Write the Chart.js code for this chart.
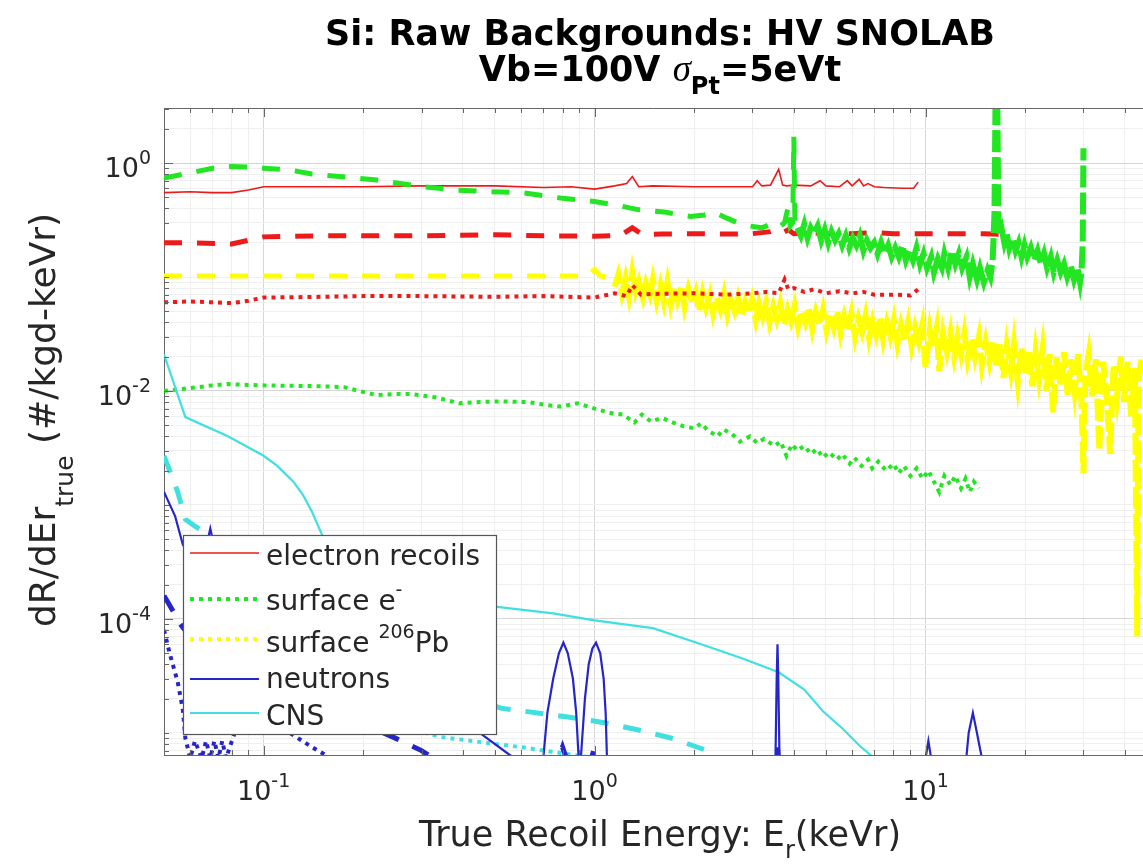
<!DOCTYPE html>
<html>
<head>
<meta charset="utf-8">
<title>Si: Raw Backgrounds: HV SNOLAB</title>
<script src="https://cdn.jsdelivr.net/npm/chart.js@4.4.1/dist/chart.umd.min.js"></script>
<style>
  html, body { margin: 0; padding: 0; background: #fff; overflow: hidden; }
  canvas { display: block; }
</style>
</head>
<body>
<canvas id="bgChart" width="1143" height="866"></canvas>
<script>
// [energy keVr, rate #/kgd-keVr] pairs

// electron recoils
var erSolid = [[0.05, 0.55], [0.06, 0.56], [0.07, 0.55], [0.08, 0.55], [0.09, 0.58], [0.1, 0.62], [0.15, 0.62], [0.2, 0.62], [0.3, 0.63], [0.5, 0.63], [0.7, 0.61], [0.85, 0.62], [1.0, 0.59], [1.15, 0.63], [1.25, 0.66], [1.3, 0.76], [1.36, 0.62], [1.5, 0.63], [2.0, 0.62], [2.5, 0.62], [3.0, 0.62], [3.1, 0.70], [3.2, 0.63], [3.4, 0.64], [3.6, 0.88], [3.7, 0.64], [3.8, 0.63], [4.0, 0.64], [4.5, 0.63], [4.8, 0.70], [5.0, 0.63], [5.5, 0.62], [5.8, 0.70], [6.0, 0.63], [6.3, 0.72], [6.5, 0.63], [6.7, 0.66], [7.0, 0.62], [7.5, 0.61], [8.5, 0.60], [9.2, 0.60], [9.5, 0.68]];

var erDash = [[0.05, 0.2], [0.06, 0.2], [0.08, 0.195], [0.09, 0.21], [0.1, 0.225], [0.15, 0.23], [0.2, 0.23], [0.3, 0.23], [0.5, 0.235], [0.7, 0.23], [1.0, 0.228], [1.2, 0.232], [1.3, 0.27], [1.4, 0.235], [1.6, 0.238], [2.0, 0.24], [2.5, 0.238], [3.0, 0.24], [3.4, 0.25], [3.55, 0.26], [3.7, 0.245], [3.85, 0.26], [4.0, 0.24], [4.5, 0.245], [5.0, 0.24], [6.0, 0.24], [7.0, 0.245], [8.0, 0.24], [10, 0.24], [12, 0.24], [15, 0.24], [18, 0.235]];

var erDot = [[0.05, 0.060], [0.06, 0.061], [0.07, 0.060], [0.08, 0.059], [0.09, 0.062], [0.1, 0.066], [0.15, 0.067], [0.2, 0.068], [0.3, 0.068], [0.5, 0.067], [0.7, 0.068], [1.0, 0.066], [1.15, 0.072], [1.25, 0.068], [1.3, 0.085], [1.38, 0.07], [1.5, 0.071], [2.0, 0.072], [2.5, 0.07], [3.0, 0.072], [3.3, 0.074], [3.6, 0.072], [3.75, 0.095], [3.85, 0.078], [4.0, 0.08], [4.3, 0.074], [4.6, 0.078], [5.0, 0.072], [5.5, 0.075], [6.0, 0.072], [6.5, 0.074], [7.0, 0.07], [8.0, 0.07], [9.0, 0.069], [9.5, 0.078]];

// surface e-
var seDash = [[0.05, 0.74], [0.06, 0.82], [0.07, 0.9], [0.08, 0.93], [0.09, 0.92], [0.1, 0.9], [0.12, 0.87], [0.14, 0.80], [0.18, 0.75], [0.22, 0.71], [0.3, 0.62], [0.38, 0.58], [0.48, 0.56], [0.6, 0.55], [0.8, 0.49], [1.0, 0.46], [1.2, 0.42], [1.35, 0.39], [1.5, 0.38], [1.65, 0.37], [1.8, 0.35], [1.95, 0.34], [2.15, 0.35], [2.3, 0.37], [2.5, 0.33], [2.7, 0.30], [2.95, 0.28], [3.2, 0.27], [3.4, 0.29], [3.6, 0.27], [3.75, 0.30], [3.85, 0.42], [3.9, 0.28], [3.97, 0.30], [4.0, 1.7], [4.03, 0.30],
  [4.1, 0.27], [4.2, 0.23], [4.3, 0.29], [4.4, 0.22], [4.5, 0.27], [4.6, 0.24], [4.72, 0.28], [4.84, 0.21], [4.96, 0.26], [5.08, 0.2], [5.2, 0.25], [5.33, 0.21], [5.46, 0.24], [5.6, 0.19], [5.74, 0.23], [5.88, 0.18], [6.03, 0.22], [6.18, 0.19], [6.33, 0.23], [6.49, 0.17], [6.65, 0.21], [6.82, 0.18], [6.99, 0.2], [7.16, 0.16], [7.34, 0.2], [7.52, 0.16], [7.71, 0.19], [7.9, 0.15], [8.1, 0.18], [8.3, 0.15], [8.51, 0.19], [8.72, 0.14], [8.94, 0.17], [9.16, 0.14], [9.39, 0.18], [9.62, 0.13], [9.86, 0.16], [10.1, 0.12], [10.4, 0.15], [10.6, 0.11], [10.9, 0.145], [11.2, 0.12], [11.4, 0.16], [11.7, 0.12], [12.0, 0.17], [12.3, 0.13], [12.6, 0.16], [12.9, 0.12], [13.3, 0.15], [13.6, 0.1], [13.9, 0.13], [14.3, 0.095], [14.6, 0.12], [15.0, 0.09], [15.4, 0.115], [15.7, 0.1], [15.95, 0.14], [16.15, 0.35], [16.3, 6], [16.45, 6],
  [16.6, 0.28], [16.8, 0.23], [17.0, 0.26], [17.3, 0.2], [17.6, 0.24], [17.9, 0.18], [18.3, 0.22], [18.7, 0.17], [19.1, 0.2], [19.5, 0.15], [19.9, 0.19], [20.3, 0.15], [20.8, 0.18], [21.3, 0.14], [21.8, 0.17], [22.3, 0.13], [22.8, 0.16], [23.3, 0.12], [23.9, 0.15], [24.4, 0.11], [25.0, 0.14], [25.6, 0.11], [26.2, 0.13], [26.8, 0.1], [27.5, 0.125], [28.1, 0.095], [28.8, 0.12], [29.3, 0.09], [29.6, 0.11], [29.85, 0.2], [30.0, 1.35]];

var seDot = [[0.05, 0.0100], [0.06, 0.0106], [0.07, 0.0112], [0.078, 0.0115], [0.09, 0.0113], [0.1, 0.0112], [0.12, 0.0111], [0.15, 0.0110], [0.175, 0.0108], [0.2, 0.0098], [0.22, 0.0092], [0.25, 0.0094], [0.28, 0.0094], [0.33, 0.0088], [0.39, 0.0078], [0.45, 0.0080], [0.52, 0.0081], [0.63, 0.0080], [0.72, 0.0075], [0.79, 0.0073], [0.89, 0.0078], [1.0, 0.0070], [1.12, 0.0064], [1.22, 0.0062], [1.32, 0.0053], [1.39, 0.0062], [1.48, 0.0054], [1.6, 0.0058], [1.75, 0.0052], [1.86, 0.0049], [2.0, 0.0047], [2.1, 0.0052], [2.2, 0.0045], [2.35, 0.0040], [2.45, 0.0046], [2.6, 0.0042], [2.75, 0.0036], [2.95, 0.0040], [3.1, 0.0035], [3.25, 0.0038], [3.5, 0.0033], [3.65, 0.0036], [3.8, 0.0027], [3.95, 0.0034], [4.1, 0.0030], [4.3, 0.0033], [4.5, 0.0028], [4.7, 0.0031], [4.9, 0.0026], [5.1, 0.0029], [5.4, 0.0025], [5.6, 0.0028], [5.9, 0.0023], [6.1, 0.0026], [6.4, 0.0022], [6.7, 0.0025], [6.9, 0.0021], [7.2, 0.0024], [7.6, 0.0020], [8.0, 0.0023], [8.3, 0.0019], [8.6, 0.0022], [9.0, 0.0018], [9.4, 0.0021], [9.8, 0.0017], [10.2, 0.0020], [10.6, 0.0016], [11.0, 0.0013], [11.4, 0.0018], [11.9, 0.0015], [12.3, 0.0018], [12.8, 0.0014], [13.2, 0.0017], [13.6, 0.0013], [14.0, 0.0016], [14.5, 0.0014]];

// surface 206Pb
var pbDash = [[0.05, 0.102], [0.1, 0.102], [0.2, 0.102], [0.4, 0.102], [0.7, 0.102], [0.95, 0.102], [1.0, 0.116], [1.04, 0.102], [1.1, 0.1],
  [1.15, 0.082], [1.18, 0.105], [1.21, 0.072], [1.24, 0.098], [1.27, 0.068], [1.3, 0.11], [1.33, 0.075], [1.36, 0.092], [1.4, 0.066], [1.43, 0.088], [1.47, 0.07], [1.5, 0.095], [1.54, 0.062], [1.58, 0.085], [1.62, 0.06], [1.66, 0.09], [1.7, 0.058], [1.74, 0.08], [1.78, 0.062], [1.83, 0.084], [1.87, 0.055], [1.92, 0.078], [1.97, 0.06],
  [2.02, 0.074], [2.07, 0.05], [2.12, 0.072], [2.17, 0.054], [2.23, 0.07], [2.28, 0.048], [2.34, 0.066], [2.4, 0.052], [2.46, 0.071], [2.52, 0.047], [2.58, 0.062], [2.65, 0.05], [2.71, 0.065], [2.78, 0.045], [2.85, 0.06], [2.92, 0.048], [2.99, 0.063],
  [3.07, 0.042], [3.14, 0.058], [3.22, 0.045], [3.3, 0.06], [3.38, 0.04], [3.47, 0.055], [3.55, 0.043], [3.64, 0.058], [3.73, 0.038], [3.83, 0.052], [3.92, 0.041], [4.02, 0.056], [4.12, 0.037], [4.22, 0.05], [4.33, 0.04], [4.44, 0.054], [4.55, 0.035], [4.66, 0.049], [4.78, 0.038], [4.9, 0.052],
  [5.02, 0.034], [5.15, 0.047], [5.28, 0.036], [5.41, 0.05], [5.54, 0.032], [5.68, 0.045], [5.82, 0.034], [5.97, 0.048], [6.12, 0.03], [6.27, 0.043], [6.43, 0.033], [6.59, 0.046], [6.75, 0.029], [6.92, 0.041], [7.09, 0.031], [7.27, 0.044], [7.45, 0.028], [7.64, 0.04], [7.83, 0.03],
  [8.02, 0.042], [8.22, 0.026], [8.43, 0.038], [8.64, 0.028], [8.86, 0.04], [9.08, 0.025], [9.3, 0.036], [9.54, 0.027], [9.78, 0.038], [10.0, 0.016], [10.3, 0.034], [10.5, 0.024], [10.8, 0.036], [11.0, 0.015], [11.3, 0.032], [11.6, 0.022], [11.9, 0.033],
  [12.2, 0.02], [12.5, 0.03], [12.8, 0.021], [13.1, 0.032], [13.4, 0.019], [13.8, 0.029], [14.1, 0.02], [14.5, 0.03], [14.8, 0.017], [15.2, 0.027], [15.6, 0.018], [16.0, 0.028], [16.4, 0.016], [16.8, 0.026], [17.2, 0.013], [17.6, 0.025], [18.1, 0.015], [18.5, 0.026], [19.0, 0.012], [19.5, 0.024],
  [20.0, 0.014], [20.5, 0.023], [21.0, 0.011], [21.5, 0.022], [22.0, 0.013], [22.6, 0.024], [23.2, 0.01], [23.7, 0.021], [24.3, 0.0065], [24.9, 0.02], [25.6, 0.011], [26.2, 0.022], [26.9, 0.009], [27.5, 0.019], [28.2, 0.01], [28.9, 0.021], [29.6, 0.008],
  [30.0, 0.0019], [30.4, 0.014], [31.1, 0.021], [31.9, 0.009], [32.7, 0.019], [33.5, 0.003], [34.4, 0.018], [35.2, 0.01], [36.1, 0.0028], [37.0, 0.017], [37.9, 0.009], [38.9, 0.02], [39.8, 0.008], [40.8, 0.018], [41.8, 0.006], [42.9, 0.016], [43.6, 0.00007], [44.0, 0.012], [45.0, 0.02]];

// neutrons
var nSolid = [[0.05, 1.3e-3], [0.054, 8e-4], [0.057, 4.5e-4], [0.06, 3.5e-4], [0.063, 3e-4], [0.066, 3.5e-4], [0.069, 6.2e-4], [0.072, 3.5e-4], [0.076, 2.5e-4], [0.09, 1.5e-4], [0.12, 8e-5], [0.18, 4e-5], [0.26, 2.2e-5], [0.36, 1.4e-5], [0.45, 1.0e-5], [0.55, 6.5e-6], [0.6, 5.5e-6],
  [0.7, 6e-6], [0.72, 1.5e-5], [0.75, 3e-5], [0.78, 5e-5], [0.805, 6.2e-5], [0.83, 5e-5], [0.86, 3e-5], [0.88, 1.5e-5], [0.895, 6e-6], [0.905, 5e-6], [0.915, 8e-6], [0.935, 2e-5], [0.96, 4e-5], [0.985, 5.5e-5], [1.01, 6.2e-5], [1.04, 5e-5], [1.065, 3e-5], [1.08, 1.5e-5], [1.09, 6e-6], [1.1, 5e-6],
  [3.45, 5e-6], [3.52, 6e-6], [3.55, 3e-5], [3.57, 6e-5], [3.59, 3e-5], [3.62, 6e-6], [3.69, 5e-6], [9.9, 5e-6], [10.2, 8.5e-6], [10.5, 5e-6], [13.2, 5e-6], [13.5, 1.0e-5], [13.9, 1.5e-5], [14.3, 1e-5], [14.8, 6e-6], [15, 5e-6]];

var nDash = [[0.05, 1.6e-4], [0.053, 1.2e-4], [0.056, 9e-5], [0.06, 7e-5], [0.07, 5e-5], [0.1, 3e-5], [0.15, 1.8e-5], [0.2, 1.2e-5], [0.25, 9e-6], [0.3, 7e-6], [0.34, 5.5e-6], [0.77, 5.5e-6], [0.8, 7.5e-6], [0.83, 5.5e-6], [0.97, 5.5e-6], [1.0, 7.5e-6], [1.03, 5.5e-6], [3.54, 5.5e-6], [3.57, 7.5e-6], [3.6, 5.5e-6]];

var nDot = [[0.05, 8e-5], [0.052, 5e-5], [0.055, 2.8e-5], [0.057, 1.6e-5], [0.058, 9e-6], [0.06, 6e-6], [0.062, 8.5e-6], [0.065, 6e-6], [0.067, 8.5e-6], [0.069, 6e-6], [0.071, 8.5e-6], [0.073, 6e-6], [0.075, 8.5e-6], [0.077, 6e-6], [0.085, 1.4e-5], [0.1, 1.6e-5], [0.12, 1e-5], [0.14, 7.5e-6], [0.16, 6e-6]];

// CNS
var cnsSolid = [[0.05, 0.021], [0.058, 0.0059], [0.078, 0.0040], [0.1, 0.0027], [0.11, 0.0022], [0.123, 0.0016], [0.132, 0.0012], [0.14, 0.00087], [0.15, 0.00055], [0.17, 0.00032], [0.2, 0.00022], [0.25, 0.00017], [0.35, 0.000145], [0.5, 0.000128], [0.75, 0.000112], [1.0, 0.000097], [1.5, 0.000083], [2.1, 0.00006], [2.8, 0.000045], [3.6, 0.000034], [4.3, 0.000024], [4.9, 0.0000155], [5.6, 0.000011], [6.3, 0.0000078], [6.9, 0.0000062], [7.5, 0.000005]];

var cnsDash = [[0.05, 2.7e-3], [0.055, 1.3e-3], [0.058, 7.5e-4], [0.062, 6.5e-4], [0.067, 5.7e-4], [0.08, 4e-4], [0.12, 1.5e-4], [0.2, 6e-5], [0.3, 3e-5], [0.52, 1.65e-5], [0.83, 1.38e-5], [1.07, 1.23e-5], [1.38, 1.05e-5], [1.73, 8.9e-6], [2.35, 6.5e-6]];

var cnsDot = [[0.2, 1.4e-5], [0.343, 9.2e-6], [0.6, 7.5e-6], [0.93, 6.2e-6], [1.2, 5.5e-6]];

// labelled ticks
var xMajor = [0.1, 1, 10];
var xMajorExp = ['-1', '0', '1'];
var yMajor = [1e-4, 1e-2, 1];
var yMajorExp = ['-4', '-2', '0'];

var legendLabels = [
  [['electron recoils', 0]],
  [['surface e', 0], ['-', 1]],
  [['surface ', 0], ['206', 1], ['Pb', 0]],
  [['neutrons', 0]],
  [['CNS', 0]]
];

var colors = { red: '#ee1a1a', green: '#22e622', yellow: '#ffff00', blue: '#2626c8', cyan: '#40e0e0' };
var solid = { w: 1.6, dash: [] };
var solidThick = { w: 2.2, dash: [] };
var dashed = { w: 5, dash: [18, 15] };
var dotted = { w: 4, dash: [4, 5] };
var legendStyles = [
  [colors.red, solid], [colors.green, dotted], [colors.yellow, dotted], [colors.blue, solidThick], [colors.cyan, solidThick]
];

function serie(label, pts, color, st, noisyFrom) {
  var ds = {
    label: label,
    data: pts.map(function (p) { return { x: p[0], y: p[1] }; }),
    borderColor: color,
    backgroundColor: color,
    borderWidth: st.w,
    borderDash: st.dash,
    borderCapStyle: 'butt',
    borderJoinStyle: 'miter',
    pointRadius: 0,
    tension: 0,
    fill: false
  };
  // where the spectrum gets noisy the dashes crowd together into a band
  if (noisyFrom) {
    ds.segment = {
      borderDash: function (c) { return c.p0.parsed.x >= noisyFrom ? [22, 5] : st.dash; },
      borderWidth: function (c) { return c.p0.parsed.x >= noisyFrom ? 6 : st.w; }
    };
  }
  return ds;
}

function decadeTicks(min, max) {
  var out = [];
  for (var n = Math.floor(Math.log10(min)); n <= Math.ceil(Math.log10(max)); n++) {
    for (var k = 1; k <= 9; k++) {
      var v = k * Math.pow(10, n);
      if (v >= min * 0.999 && v <= max * 1.001) out.push(v);
    }
  }
  return out;
}

function majorIndex(v, list) {
  for (var i = 0; i < list.length; i++) {
    if (Math.abs(Math.log10(v) - Math.log10(list[i])) < 1e-6) return i;
  }
  return -1;
}

// text with sub/superscripts: parts = [text, size, dy, style, family]
function richWidth(c, parts, family, weight) {
  var total = 0;
  parts.forEach(function (p) {
    c.font = (p[3] || weight) + ' ' + p[1] + 'px ' + (p[4] || family);
    total += c.measureText(p[0]).width;
  });
  return total;
}

function richText(c, parts, x, y, family, weight, align) {
  var total = richWidth(c, parts, family, weight);
  var cx = x;
  if (align === 'center') cx = x - total / 2;
  if (align === 'right') cx = x - total;
  parts.forEach(function (p) {
    c.font = (p[3] || weight) + ' ' + p[1] + 'px ' + (p[4] || family);
    c.fillText(p[0], cx, y + (p[2] || 0));
    cx += c.measureText(p[0]).width;
  });
}

var FONT = '"DejaVu Sans"';

var decorations = {
  id: 'decorations',
  afterDraw: function (chart) {
    var c = chart.ctx, a = chart.chartArea, sx = chart.scales.x, sy = chart.scales.y;
    c.save();

    // inward tick marks and top box edge
    c.strokeStyle = '#666';
    c.lineWidth = 1;
    c.beginPath();
    sx.ticks.forEach(function (t) {
      var px = Math.round(sx.getPixelForValue(t.value)) + 0.5;
      var len = majorIndex(t.value, xMajor) >= 0 ? 9 : 5;
      c.moveTo(px, a.bottom); c.lineTo(px, a.bottom - len);
      c.moveTo(px, a.top); c.lineTo(px, a.top + len);
    });
    sy.ticks.forEach(function (t) {
      var py = Math.round(sy.getPixelForValue(t.value)) + 0.5;
      var len = majorIndex(t.value, yMajor) >= 0 ? 9 : 5;
      c.moveTo(a.left, py); c.lineTo(a.left + len, py);
    });
    c.moveTo(a.left, a.top + 0.5); c.lineTo(a.right, a.top + 0.5);
    c.stroke();

    c.textAlign = 'left';
    c.textBaseline = 'alphabetic';

    // tick labels (powers of ten)
    c.fillStyle = '#262626';
    xMajor.forEach(function (v, i) {
      richText(c, [['10', 27], [xMajorExp[i], 19, -13]], sx.getPixelForValue(v), 800, FONT, 'normal', 'center');
    });
    yMajor.forEach(function (v, i) {
      richText(c, [['10', 27], [yMajorExp[i], 19, -13]], 151, sy.getPixelForValue(v) + 14, FONT, 'normal', 'right');
    });

    // title
    c.fillStyle = '#000';
    richText(c, [['Si: Raw Backgrounds: HV SNOLAB', 35]], 660, 45, FONT, 'bold', 'center');
    richText(c, [['Vb=100V ', 35], ['σ', 37, 0, 'italic', '"Liberation Serif"'], ['Pt', 24, 13], ['=5eVt', 35]], 660, 81, FONT, 'bold', 'center');

    // axis titles
    c.fillStyle = '#262626';
    richText(c, [['True Recoil Energy: E', 35], ['r', 24, 12], ['(keVr)', 35]], 660, 846, FONT, 'normal', 'center');
    c.save();
    c.translate(55, 420);
    c.rotate(-Math.PI / 2);
    richText(c, [['dR/dEr', 36], ['true', 25, 18], [' (#/kgd-keVr)', 36]], 0, 0, FONT, 'normal', 'center');
    c.restore();

    // legend box
    var bx = 183, by = 535, bw = 313, bh = 199;
    c.fillStyle = '#fff';
    c.fillRect(bx, by, bw, bh);
    c.strokeStyle = '#555';
    c.lineWidth = 1.2;
    c.strokeRect(bx + 0.5, by + 0.5, bw, bh);
    var lineY = [553, 599, 639, 679, 713];
    var textY = [565, 610, 652, 688, 725];
    legendLabels.forEach(function (lab, i) {
      var st = legendStyles[i];
      c.strokeStyle = st[0];
      c.lineWidth = st[1].w;
      c.setLineDash(st[1].dash);
      c.lineCap = 'butt';
      c.beginPath();
      c.moveTo(190, lineY[i]);
      c.lineTo(259, lineY[i]);
      c.stroke();
      c.setLineDash([]);
      c.fillStyle = '#262626';
      var parts = lab.map(function (p) { return p[1] ? [p[0], 19, -14] : [p[0], 28]; });
      richText(c, parts, 266, textY[i], FONT, 'normal', 'left');
    });

    c.restore();
  }
};

var datasets = [
  serie('neutrons', nSolid, colors.blue, solidThick),
  serie('neutrons (dashed)', nDash, colors.blue, dashed),
  serie('neutrons (dotted)', nDot, colors.blue, dotted),
  serie('CNS', cnsSolid, colors.cyan, solidThick),
  serie('CNS (dashed)', cnsDash, colors.cyan, dashed),
  serie('CNS (dotted)', cnsDot, colors.cyan, dotted),
  serie('surface e- (dashed)', seDash, colors.green, dashed, 4.05),
  serie('electron recoils', erSolid, colors.red, solid),
  serie('electron recoils (dashed)', erDash, colors.red, dashed),
  serie('electron recoils (dotted)', erDot, colors.red, dotted),
  serie('surface e-', seDot, colors.green, dotted),
  serie('surface 206Pb (dashed)', pbDash, colors.yellow, dashed, 1.12)
];

var ctx = document.getElementById('bgChart');
var bgChart = new Chart(ctx, {
  type: 'line',
  data: { datasets: datasets },
  options: {
    responsive: false,
    animation: false,
    layout: { padding: { top: 108, left: 0, right: 0, bottom: 0 } },
    plugins: {
      legend: { display: false },
      title: { display: false },
      tooltip: { enabled: false }
    },
    scales: {
      x: {
        type: 'logarithmic',
        min: 0.05,
        max: 45.4,
        afterBuildTicks: function (s) { s.ticks = decadeTicks(0.05, 45.4).map(function (v) { return { value: v }; }); },
        afterFit: function (s) { s.height = 111; },
        grid: {
          drawTicks: false,
          color: function (c) { return c.tick && majorIndex(c.tick.value, xMajor) >= 0 ? '#d6d6d6' : '#efefef'; }
        },
        border: { color: '#666', width: 1 },
        ticks: { display: false, autoSkip: false }
      },
      y: {
        type: 'logarithmic',
        min: 6.4e-6,
        max: 3.04,
        afterBuildTicks: function (s) { s.ticks = decadeTicks(6.4e-6, 3.04).map(function (v) { return { value: v }; }); },
        afterFit: function (s) { s.width = 164; },
        grid: {
          drawTicks: false,
          color: function (c) { return c.tick && majorIndex(c.tick.value, yMajor) >= 0 ? '#d6d6d6' : '#efefef'; }
        },
        border: { color: '#666', width: 1 },
        ticks: { display: false, autoSkip: false }
      }
    }
  },
  plugins: [decorations]
});
</script>
</body>
</html>
